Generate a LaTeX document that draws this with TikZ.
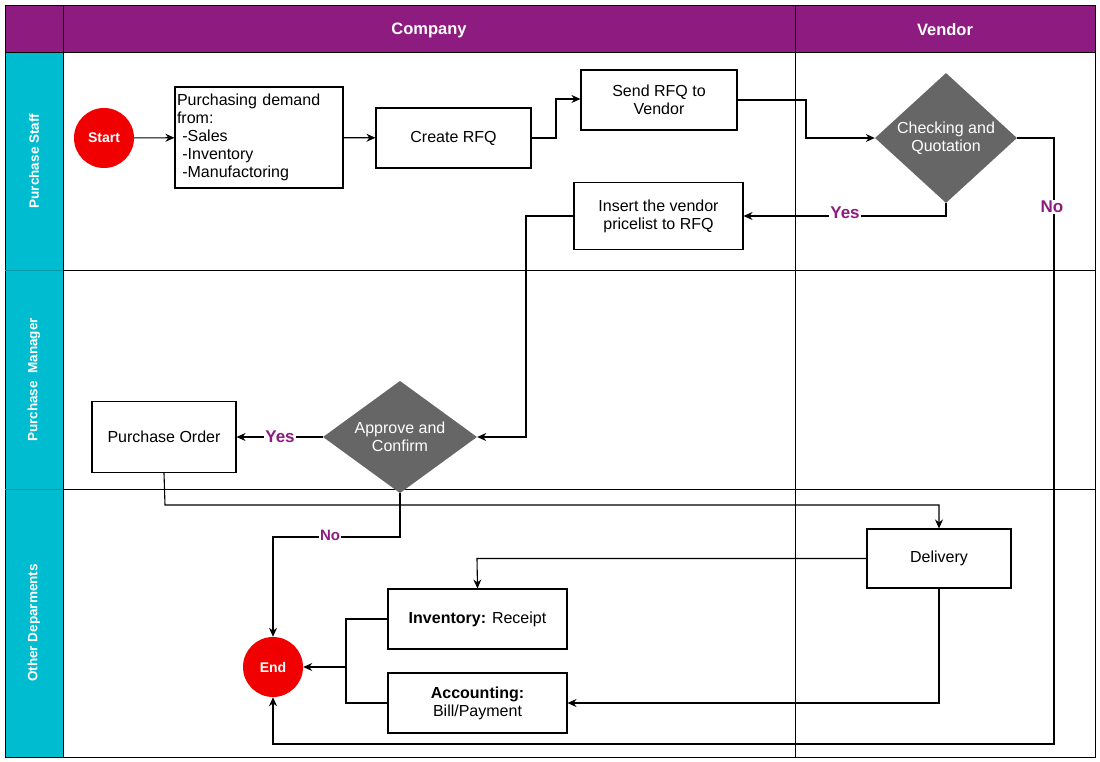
\documentclass[tikz,border=0pt]{standalone}
\usepackage{fontspec}
\setmainfont{Liberation Sans}
\usetikzlibrary{shapes.geometric,arrows.meta}
\definecolor{pur}{HTML}{8E1B80}
\definecolor{cy}{HTML}{00BCD0}
\definecolor{gr}{HTML}{666666}
\definecolor{rd}{HTML}{F00000}
\begin{document}
\begin{tikzpicture}[x=1pt,y=-1pt,
 font=\fontsize{16}{18}\selectfont,
 box/.style={draw,line width=1.1pt,fill=white,minimum width=#1,align=center,inner sep=2pt},
 dia/.style={diamond,fill=gr,text=white,aspect=1.1,inner sep=0pt,align=center},
 circ/.style={circle,fill=rd,text=white,font=\fontsize{14}{16}\selectfont\bfseries,minimum size=60pt,inner sep=0pt},
 ar/.style={-{Stealth[length=9pt,width=8pt]},line width=1.1pt},
 lab/.style={fill=white,text=pur,font=\fontsize{17}{19}\selectfont\bfseries,inner sep=1pt},
 hd/.style={text=white,font=\fontsize{16.5}{18}\selectfont\bfseries}]
\useasboundingbox (0,0) rectangle (1100,762);
\fill[pur] (5,5) rectangle (1095,52);
\fill[cy] (5,52) rectangle (63,757);
\draw (5,5) rectangle (1095,757);
\draw (63,5)--(63,757) (5,52)--(1095,52);
\draw (795,5)--(795,757);
\draw (63,270)--(1095,270) (63,489)--(1095,489);
\draw[cy!80!black] (5,270)--(63,270) (5,489)--(63,489);
\node[hd] (hc) at (429,30) {Company};
\node[hd] (hv) at (945,30) {Vendor};
\node[hd,rotate=90,font=\fontsize{13.5}{15}\selectfont\bfseries] (l1) at (34,161) {Purchase Staff};
\node[hd,rotate=90,font=\fontsize{13.5}{15}\selectfont\bfseries] (l2) at (34,380) {Purchase\ \ Manager};
\node[hd,rotate=90,font=\fontsize{13.5}{15}\selectfont\bfseries] (l3) at (34,623) {Other Deparments};

\node[circ] (st) at (104,138) {Start};
\node[draw,line width=1.1pt,minimum width=168pt,minimum height=101pt,align=left,text width=164pt,inner sep=2pt] (pd) at (259,137.5) {Purchasing demand from:\\ \ -Sales\\ \ -Inventory\\ \ -Manufactoring};
\node[box=155pt,minimum height=60pt] (cr) at (453.5,138) {Create RFQ};
\node[box=156pt,minimum height=60pt] (se) at (659,100) {Send RFQ to\\Vendor};
\node[dia,minimum width=142pt,minimum height=130pt] (ch) at (946,138) {Checking and\\Quotation};
\node[box=169pt,minimum height=67pt] (in) at (658.5,216) {Insert the vendor\\pricelist to RFQ};
\node[dia,minimum width=154pt,minimum height=96pt] (ap) at (400,437) {Approve and\\Confirm};
\node[box=144pt,minimum height=71pt] (po) at (164,437) {Purchase Order};
\node[box=144pt,minimum height=59pt] (de) at (939,558.5) {Delivery};
\node[box=179pt,minimum height=60pt] (iv) at (477.5,619) {\textbf{Inventory:} Receipt};
\node[box=179pt,minimum height=60pt] (ac) at (477.5,703) {\textbf{Accounting:}\\Bill/Payment};
\node[circ] (en) at (273,667) {End};

\draw[ar] (st)--(pd);
\draw[ar] (pd)--(cr);
\draw[ar] (cr.east)--(556,138)--(556,99)--(se.west|-0,99);
\draw[ar] (se.east)--(806,100)--(806,138)--(ch.west);
\draw[ar] (ch.south)--(946,216)--(in.east);
\node[lab] (y1) at (845,213) {Yes};
\draw[ar] (ch.east)--(1054,138)--(1054,744)--(273,744)--(en.south);
\node[lab] (n1) at (1052,207) {No};
\draw[ar] (in.west)--(526,216)--(526,437)--(ap.east);
\draw[ar] (ap.west)--(po.east);
\node[lab] (y2) at (280,437) {Yes};
\draw[ar] (po.south)--(165,505)--(939,505)--(de.north);
\draw[ar] (ap.south)--(400,537)--(273,537)--(en.north);
\node[lab,font=\fontsize{15}{17}\selectfont\bfseries] (n2) at (330,535) {No};
\draw[ar] (de.west)--(477,558.5)--(iv.north);
\draw[ar] (de.south)--(939,703)--(ac.east);
\draw[line width=1.1pt] (iv.west)--(346,619)--(346,703)--(ac.west);
\draw[ar] (346,667)--(en.east);
\end{tikzpicture}
\end{document}
